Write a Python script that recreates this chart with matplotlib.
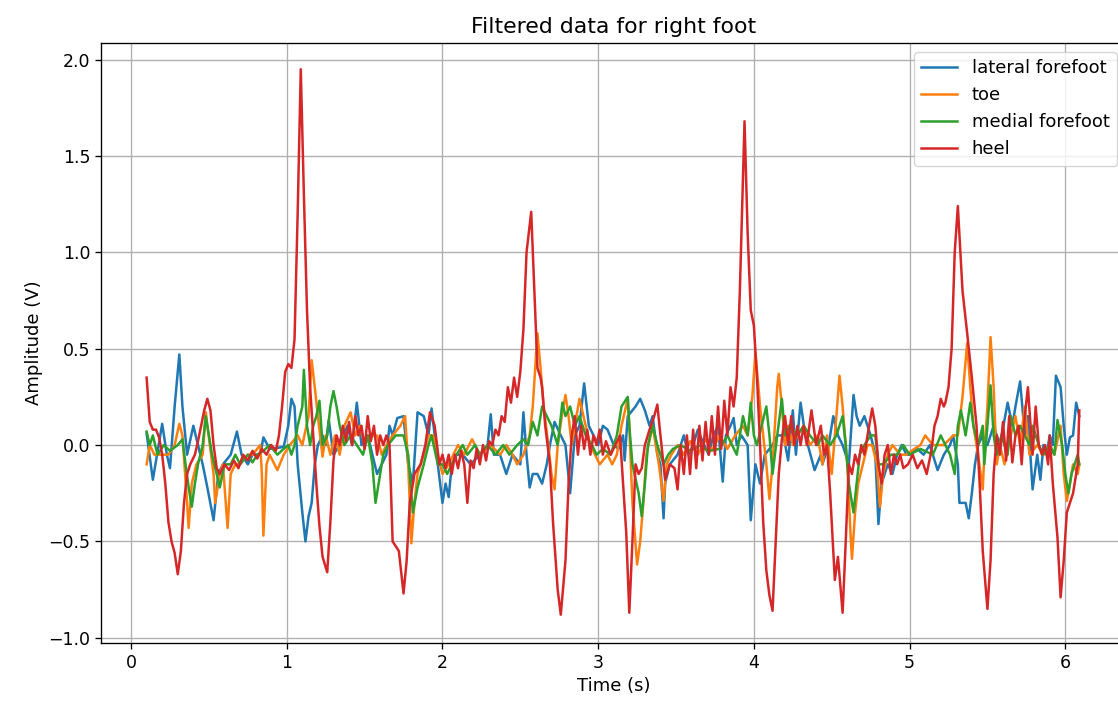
import matplotlib
matplotlib.use("Agg")
import matplotlib.pyplot as plt

title = "Filtered data for right foot"
x_label = "Time (s)"
y_label = "Amplitude (V)"
series_names = ["lateral forefoot", "toe", "medial forefoot", "heel"]

lateral_t = [0.10, 0.14, 0.20, 0.23, 0.25, 0.28, 0.31, 0.33, 0.36, 0.40, 0.43, 0.46, 0.49, 0.53, 0.56,
             0.59, 0.64, 0.68, 0.71, 0.75, 0.78, 0.83, 0.85, 0.89, 0.98, 1.01, 1.03, 1.05, 1.07, 1.10,
             1.12, 1.14, 1.16, 1.18, 1.20, 1.23, 1.25, 1.27, 1.30, 1.34, 1.39, 1.42, 1.45, 1.48, 1.52,
             1.55, 1.58, 1.61, 1.64, 1.66, 1.68, 1.71, 1.75, 1.78, 1.81, 1.84, 1.88, 1.91, 1.93, 1.95,
             1.97, 2.00, 2.02, 2.04, 2.06, 2.09, 2.13, 2.18, 2.24, 2.29, 2.31, 2.33, 2.37, 2.41, 2.45,
             2.50, 2.52, 2.54, 2.56, 2.58, 2.61, 2.64, 2.67, 2.69, 2.72, 2.76, 2.79, 2.82, 2.85, 2.88,
             2.91, 2.94, 2.97, 3.00, 3.03, 3.06, 3.10, 3.13, 3.16, 3.17, 3.19, 3.24, 3.27, 3.30, 3.33,
             3.35, 3.38, 3.40, 3.42, 3.43, 3.46, 3.51, 3.55, 3.58, 3.61, 3.64, 3.67, 3.71, 3.74, 3.77,
             3.80, 3.82, 3.85, 3.87, 3.89, 3.92, 3.96, 3.98, 4.01, 4.04, 4.07, 4.12, 4.15, 4.19, 4.22,
             4.25, 4.27, 4.30, 4.33, 4.36, 4.39, 4.43, 4.44, 4.48, 4.51, 4.54, 4.57, 4.61, 4.64, 4.66,
             4.68, 4.71, 4.75, 4.78, 4.80, 4.82, 4.86, 4.89, 4.92, 4.95, 4.98, 5.00, 5.05, 5.09, 5.13,
             5.18, 5.22, 5.26, 5.28, 5.31, 5.32, 5.36, 5.38, 5.40, 5.42, 5.44, 5.47, 5.50, 5.54, 5.58,
             5.63, 5.66, 5.68, 5.71, 5.74, 5.76, 5.79, 5.82, 5.84, 5.86, 5.88, 5.90, 5.92, 5.94, 5.97,
             5.99, 6.01, 6.03, 6.05, 6.07, 6.09]
lateral_v = [0.06, -0.18, 0.11, -0.05, -0.12, 0.20, 0.47, 0.20, -0.05, 0.10, 0.00, -0.10, -0.22, -0.39, -0.15,
             -0.10, -0.05, 0.07, -0.05, -0.10, -0.05, -0.05, 0.04, -0.02, -0.01, 0.10, 0.24, 0.20, -0.10, -0.35,
             -0.50, -0.37, -0.30, -0.10, 0.00, 0.05, 0.00, 0.13, -0.05, 0.00, 0.10, 0.00, 0.22, 0.00, 0.05,
             -0.05, -0.15, -0.10, -0.05, 0.10, 0.05, 0.14, 0.15, -0.10, -0.20, 0.17, 0.15, 0.05, 0.19, 0.05,
             -0.10, -0.30, -0.20, -0.27, -0.10, -0.05, -0.05, -0.10, -0.05, 0.00, 0.16, -0.05, -0.05, -0.15, -0.05,
             -0.10, 0.17, -0.05, -0.22, -0.15, -0.15, -0.20, -0.10, 0.00, 0.12, 0.05, 0.00, -0.25, 0.05, 0.10,
             0.32, 0.10, 0.05, 0.00, 0.10, 0.08, 0.00, -0.02, 0.05, -0.08, 0.15, 0.20, 0.24, 0.18, 0.10,
             0.15, -0.05, -0.10, -0.38, -0.20, -0.10, -0.05, 0.05, -0.05, 0.00, 0.08, 0.02, -0.05, 0.05, 0.10,
             -0.19, 0.05, 0.10, 0.14, 0.00, 0.05, 0.00, -0.39, -0.10, -0.20, -0.05, 0.00, 0.05, 0.05, -0.08,
             0.18, -0.05, 0.22, 0.05, -0.04, -0.13, -0.05, -0.10, 0.00, 0.15, 0.05, 0.00, -0.10, 0.26, 0.15,
             0.10, 0.15, 0.05, -0.05, -0.41, -0.20, -0.10, -0.15, -0.05, 0.00, -0.05, -0.05, -0.02, -0.05, 0.00,
             -0.13, -0.05, 0.00, 0.05, -0.10, -0.30, -0.30, -0.38, -0.25, -0.10, 0.00, 0.05, 0.00, 0.10, 0.00,
             0.22, 0.10, 0.20, 0.33, 0.05, 0.15, -0.23, -0.05, -0.18, 0.00, -0.05, 0.05, 0.00, 0.36, 0.30,
             0.10, -0.05, 0.04, 0.05, 0.22, 0.15]

toe_t = [0.10, 0.12, 0.15, 0.20, 0.24, 0.28, 0.31, 0.33, 0.36, 0.37, 0.39, 0.42, 0.46, 0.48, 0.49,
         0.53, 0.54, 0.57, 0.59, 0.62, 0.64, 0.67, 0.70, 0.75, 0.78, 0.83, 0.84, 0.85, 0.87, 0.89,
         0.94, 0.98, 1.02, 1.07, 1.10, 1.14, 1.16, 1.18, 1.20, 1.23, 1.25, 1.28, 1.31, 1.34, 1.37,
         1.41, 1.44, 1.47, 1.50, 1.53, 1.58, 1.61, 1.64, 1.68, 1.73, 1.76, 1.78, 1.80, 1.82, 1.84,
         1.88, 1.91, 1.94, 1.97, 2.00, 2.04, 2.07, 2.10, 2.14, 2.19, 2.24, 2.31, 2.37, 2.41, 2.45,
         2.48, 2.52, 2.54, 2.56, 2.58, 2.61, 2.63, 2.65, 2.68, 2.70, 2.72, 2.74, 2.77, 2.79, 2.81,
         2.83, 2.85, 2.88, 2.92, 2.95, 2.98, 3.01, 3.06, 3.09, 3.12, 3.15, 3.19, 3.20, 3.22, 3.25,
         3.27, 3.29, 3.31, 3.35, 3.37, 3.39, 3.42, 3.44, 3.47, 3.51, 3.55, 3.59, 3.64, 3.69, 3.73,
         3.78, 3.83, 3.88, 3.93, 3.96, 3.99, 4.01, 4.04, 4.06, 4.08, 4.10, 4.12, 4.15, 4.16, 4.18,
         4.20, 4.22, 4.25, 4.28, 4.32, 4.36, 4.41, 4.44, 4.47, 4.50, 4.53, 4.55, 4.57, 4.60, 4.62,
         4.63, 4.65, 4.67, 4.70, 4.73, 4.76, 4.79, 4.81, 4.83, 4.86, 4.89, 4.94, 4.98, 5.03, 5.07,
         5.10, 5.15, 5.22, 5.28, 5.31, 5.34, 5.37, 5.39, 5.41, 5.44, 5.47, 5.48, 5.50, 5.52, 5.54,
         5.56, 5.58, 5.61, 5.65, 5.68, 5.71, 5.74, 5.77, 5.82, 5.86, 5.90, 5.93, 5.97, 5.99, 6.01,
         6.03, 6.05, 6.08, 6.09]
toe_v = [-0.10, 0.00, -0.05, -0.05, -0.05, 0.00, 0.11, 0.05, -0.30, -0.43, -0.20, -0.10, -0.05, 0.17, 0.10,
         -0.15, -0.30, -0.15, -0.10, -0.43, -0.15, -0.10, -0.10, -0.05, -0.05, 0.00, -0.15, -0.47, -0.10, -0.05,
         -0.13, -0.05, 0.00, 0.05, 0.00, 0.15, 0.44, 0.30, 0.15, -0.06, 0.05, -0.05, 0.05, -0.05, 0.10,
         0.17, 0.05, 0.10, 0.00, 0.05, 0.05, -0.05, 0.00, 0.05, 0.10, 0.15, -0.10, -0.51, -0.30, -0.15,
         -0.05, 0.05, 0.05, -0.05, -0.15, -0.10, -0.05, 0.00, -0.05, 0.03, -0.05, 0.00, -0.05, 0.00, -0.05,
         -0.10, -0.05, 0.00, 0.05, 0.20, 0.58, 0.40, 0.20, 0.00, -0.15, -0.23, 0.00, 0.17, 0.26, 0.15,
         0.00, 0.10, 0.24, 0.10, 0.00, -0.05, -0.10, -0.05, -0.10, -0.05, 0.10, 0.24, 0.10, -0.30, -0.62,
         -0.50, -0.30, -0.05, 0.10, 0.00, -0.10, -0.29, -0.10, -0.05, 0.00, -0.05, 0.02, -0.05, 0.03, -0.03,
         0.05, -0.02, 0.05, 0.10, 0.05, 0.25, 0.48, 0.20, 0.05, -0.10, -0.28, -0.10, 0.30, 0.37, 0.20,
         0.00, 0.10, 0.00, 0.05, 0.10, 0.00, 0.05, -0.10, 0.05, -0.15, 0.15, 0.36, 0.20, -0.10, -0.45,
         -0.59, -0.35, -0.20, -0.10, 0.00, 0.00, -0.10, -0.32, -0.15, -0.05, 0.00, -0.05, -0.05, -0.02, 0.00,
         0.05, 0.00, 0.00, 0.05, 0.05, 0.25, 0.53, 0.30, 0.10, -0.05, -0.23, -0.05, 0.20, 0.56, 0.30,
         -0.10, 0.00, -0.10, 0.05, 0.15, 0.00, 0.20, -0.05, 0.00, -0.05, 0.00, -0.05, 0.10, -0.15, -0.29,
         -0.20, -0.10, -0.15, -0.10]

medial_t = [0.10, 0.12, 0.14, 0.17, 0.21, 0.25, 0.30, 0.33, 0.35, 0.37, 0.39, 0.41, 0.43, 0.46, 0.48,
            0.49, 0.52, 0.55, 0.57, 0.60, 0.64, 0.67, 0.70, 0.75, 0.78, 0.81, 0.85, 0.89, 0.94, 0.98,
            1.01, 1.03, 1.05, 1.07, 1.10, 1.11, 1.13, 1.15, 1.17, 1.19, 1.21, 1.23, 1.26, 1.28, 1.30,
            1.32, 1.34, 1.37, 1.41, 1.45, 1.49, 1.52, 1.55, 1.57, 1.60, 1.62, 1.65, 1.70, 1.75, 1.78,
            1.81, 1.84, 1.88, 1.91, 1.93, 1.97, 2.00, 2.03, 2.06, 2.09, 2.13, 2.16, 2.21, 2.24, 2.29,
            2.34, 2.39, 2.43, 2.48, 2.52, 2.55, 2.58, 2.61, 2.64, 2.67, 2.70, 2.74, 2.77, 2.79, 2.82,
            2.85, 2.88, 2.92, 2.96, 2.99, 3.03, 3.08, 3.12, 3.15, 3.19, 3.20, 3.22, 3.26, 3.28, 3.30,
            3.32, 3.35, 3.38, 3.42, 3.45, 3.48, 3.53, 3.59, 3.66, 3.70, 3.78, 3.83, 3.86, 3.89, 3.91,
            3.93, 3.96, 3.98, 4.00, 4.02, 4.05, 4.08, 4.10, 4.12, 4.15, 4.18, 4.20, 4.23, 4.28, 4.32,
            4.36, 4.41, 4.44, 4.49, 4.53, 4.57, 4.59, 4.61, 4.64, 4.66, 4.68, 4.71, 4.75, 4.78, 4.80,
            4.83, 4.88, 4.92, 4.96, 5.00, 5.07, 5.15, 5.20, 5.23, 5.26, 5.29, 5.31, 5.33, 5.36, 5.39,
            5.41, 5.44, 5.47, 5.48, 5.50, 5.52, 5.54, 5.56, 5.59, 5.63, 5.65, 5.68, 5.71, 5.74, 5.77,
            5.79, 5.83, 5.86, 5.90, 5.93, 5.95, 5.98, 6.00, 6.02, 6.04, 6.06, 6.08, 6.09]
medial_v = [0.07, 0.00, 0.05, -0.05, 0.00, -0.03, 0.00, 0.03, -0.10, -0.22, -0.32, -0.20, -0.10, 0.00, 0.15,
            0.10, -0.05, -0.15, -0.22, -0.10, -0.10, -0.05, -0.10, -0.05, -0.09, -0.05, -0.03, 0.00, -0.05, -0.02,
            0.00, -0.05, 0.00, 0.10, 0.20, 0.39, 0.10, 0.00, 0.10, 0.15, 0.23, 0.00, 0.05, 0.20, 0.28,
            0.20, 0.10, 0.00, 0.05, 0.00, -0.05, 0.05, -0.10, -0.30, -0.15, -0.05, 0.00, 0.05, 0.05, -0.05,
            -0.35, -0.22, -0.10, 0.00, 0.05, -0.10, -0.10, -0.15, -0.10, -0.05, 0.00, -0.05, 0.00, -0.05, 0.00,
            -0.05, 0.00, -0.05, 0.00, 0.03, 0.00, 0.12, 0.05, 0.20, 0.15, 0.10, 0.00, 0.22, 0.15, 0.20,
            0.10, 0.15, 0.05, 0.00, -0.05, -0.02, -0.05, 0.05, 0.20, 0.25, 0.10, -0.10, -0.25, -0.37, -0.20,
            0.00, 0.10, 0.00, -0.10, -0.05, -0.02, 0.00, -0.03, 0.00, -0.03, -0.02, 0.05, 0.00, -0.05, 0.05,
            0.15, 0.05, 0.22, 0.05, 0.00, 0.10, 0.20, 0.05, -0.15, 0.05, 0.24, 0.05, 0.10, 0.05, 0.10,
            0.05, 0.00, 0.05, 0.00, 0.05, 0.15, 0.00, -0.20, -0.35, -0.20, -0.05, 0.00, 0.05, 0.05, -0.10,
            -0.10, -0.05, -0.05, 0.00, -0.05, -0.02, -0.05, 0.05, 0.00, -0.05, -0.15, 0.10, 0.18, 0.05, 0.22,
            0.10, 0.00, 0.10, -0.10, 0.10, 0.31, 0.05, -0.05, 0.05, -0.05, 0.15, 0.05, 0.10, 0.05, 0.00,
            0.10, 0.00, -0.05, 0.00, -0.05, 0.13, 0.00, -0.15, -0.25, -0.15, -0.10, -0.05, -0.10]

heel_t = [0.10, 0.12, 0.14, 0.16, 0.18, 0.20, 0.22, 0.24, 0.26, 0.28, 0.30, 0.32, 0.34, 0.36, 0.38,
          0.41, 0.43, 0.45, 0.47, 0.49, 0.51, 0.53, 0.55, 0.57, 0.60, 0.63, 0.66, 0.69, 0.72, 0.75,
          0.78, 0.81, 0.84, 0.87, 0.90, 0.93, 0.95, 0.97, 0.99, 1.01, 1.03, 1.05, 1.07, 1.09, 1.11,
          1.13, 1.15, 1.17, 1.19, 1.21, 1.23, 1.26, 1.28, 1.30, 1.32, 1.34, 1.36, 1.38, 1.40, 1.42,
          1.44, 1.46, 1.48, 1.50, 1.52, 1.54, 1.56, 1.58, 1.60, 1.62, 1.64, 1.66, 1.68, 1.72, 1.75,
          1.77, 1.79, 1.82, 1.86, 1.89, 1.92, 1.95, 1.98, 2.00, 2.02, 2.04, 2.06, 2.08, 2.10, 2.12,
          2.14, 2.16, 2.18, 2.20, 2.22, 2.24, 2.26, 2.28, 2.30, 2.32, 2.34, 2.36, 2.38, 2.40, 2.42,
          2.44, 2.46, 2.48, 2.50, 2.52, 2.54, 2.57, 2.59, 2.61, 2.63, 2.64, 2.66, 2.69, 2.71, 2.74,
          2.76, 2.79, 2.81, 2.83, 2.85, 2.87, 2.89, 2.91, 2.93, 2.95, 2.97, 2.99, 3.01, 3.03, 3.05,
          3.08, 3.11, 3.14, 3.16, 3.18, 3.20, 3.22, 3.24, 3.26, 3.28, 3.30, 3.33, 3.36, 3.38, 3.40,
          3.43, 3.46, 3.49, 3.51, 3.53, 3.55, 3.57, 3.59, 3.61, 3.63, 3.65, 3.67, 3.69, 3.71, 3.73,
          3.75, 3.77, 3.79, 3.81, 3.83, 3.85, 3.87, 3.89, 3.91, 3.94, 3.96, 3.98, 4.00, 4.02, 4.04,
          4.06, 4.08, 4.10, 4.12, 4.14, 4.16, 4.18, 4.20, 4.22, 4.24, 4.26, 4.28, 4.30, 4.32, 4.34,
          4.37, 4.40, 4.43, 4.45, 4.47, 4.49, 4.52, 4.54, 4.57, 4.59, 4.61, 4.63, 4.65, 4.67, 4.69,
          4.71, 4.73, 4.76, 4.78, 4.80, 4.82, 4.84, 4.86, 4.88, 4.90, 4.92, 4.94, 4.96, 4.99, 5.02,
          5.05, 5.08, 5.11, 5.14, 5.16, 5.18, 5.20, 5.22, 5.23, 5.25, 5.27, 5.29, 5.31, 5.34, 5.37,
          5.40, 5.43, 5.45, 5.47, 5.50, 5.52, 5.54, 5.56, 5.58, 5.60, 5.62, 5.64, 5.66, 5.68, 5.70,
          5.72, 5.74, 5.76, 5.79, 5.81, 5.83, 5.85, 5.87, 5.89, 5.90, 5.92, 5.95, 5.97, 5.99, 6.01,
          6.03, 6.05, 6.08, 6.09]
heel_v = [0.35, 0.12, 0.08, 0.08, 0.04, -0.05, -0.20, -0.40, -0.50, -0.56, -0.67, -0.55, -0.30, -0.15, -0.10,
          -0.05, 0.02, 0.10, 0.18, 0.24, 0.18, 0.00, -0.12, -0.15, -0.10, -0.13, -0.08, -0.12, -0.05, -0.08,
          -0.03, -0.07, -0.02, -0.05, 0.00, -0.03, 0.05, 0.20, 0.38, 0.42, 0.40, 0.55, 1.20, 1.95, 1.30,
          0.70, 0.30, 0.05, -0.20, -0.42, -0.58, -0.66, -0.40, -0.08, 0.05, 0.00, 0.10, 0.02, 0.12, 0.00,
          0.15, 0.05, 0.10, -0.02, 0.15, 0.02, 0.10, -0.05, 0.05, 0.00, 0.05, 0.00, -0.50, -0.55, -0.77,
          -0.60, -0.30, -0.15, -0.10, 0.00, 0.17, 0.10, -0.10, -0.05, -0.12, -0.05, -0.15, -0.05, -0.12, -0.03,
          -0.10, -0.30, -0.08, -0.12, -0.02, -0.10, 0.00, -0.08, 0.02, 0.00, 0.08, 0.05, 0.15, 0.12, 0.30,
          0.22, 0.35, 0.25, 0.38, 0.60, 1.00, 1.21, 0.80, 0.40, 0.35, 0.30, 0.10, -0.10, -0.40, -0.75,
          -0.88, -0.60, -0.20, 0.05, 0.15, -0.05, 0.10, -0.02, 0.08, -0.05, 0.05, 0.00, 0.08, -0.05, 0.02,
          -0.05, 0.00, 0.05, -0.20, -0.45, -0.87, -0.50, -0.10, -0.15, -0.12, 0.00, 0.08, 0.15, 0.21, 0.05,
          -0.18, -0.10, -0.12, -0.23, 0.00, -0.15, 0.05, -0.15, 0.08, -0.12, 0.10, -0.08, 0.12, -0.05, 0.15,
          -0.05, 0.20, -0.02, 0.23, 0.05, 0.30, 0.20, 0.35, 0.80, 1.68, 1.10, 0.70, 0.62, 0.35, 0.00,
          -0.40, -0.65, -0.78, -0.86, -0.50, -0.15, 0.03, 0.15, 0.00, 0.15, 0.00, 0.10, 0.00, 0.10, 0.00,
          0.18, 0.00, 0.10, -0.05, 0.00, -0.25, -0.70, -0.58, -0.87, -0.50, -0.10, -0.15, -0.05, -0.10, 0.00,
          -0.05, 0.05, 0.19, 0.10, -0.10, -0.20, -0.05, 0.00, -0.15, -0.05, -0.10, -0.05, -0.12, -0.10, -0.05,
          -0.12, -0.08, -0.15, -0.03, 0.10, 0.15, 0.24, 0.20, 0.22, 0.30, 0.50, 1.00, 1.24, 0.80, 0.58,
          0.35, 0.10, -0.20, -0.55, -0.85, -0.60, -0.15, 0.05, -0.05, 0.12, -0.08, 0.15, -0.09, 0.05, 0.10,
          -0.10, 0.15, 0.30, -0.05, 0.20, 0.00, -0.05, 0.00, -0.10, 0.05, -0.20, -0.48, -0.79, -0.60, -0.35,
          -0.30, -0.25, -0.10, 0.18]

plt.rcParams.update({
    "font.family": ["DejaVu Sans"],
    "font.size": 12,
    "axes.titlesize": 15.8,
    "axes.labelsize": 13,
    "xtick.labelsize": 12.5,
    "ytick.labelsize": 12.5,
    "lines.linewidth": 1.8,
    "axes.linewidth": 0.96,
    "grid.linewidth": 0.96,
    "xtick.major.size": 4.2,
    "ytick.major.size": 4.2,
    "xtick.major.width": 0.96,
    "ytick.major.width": 0.96,
    "legend.fontsize": 13,
})

fig = plt.figure(figsize=(11.18, 7.02), dpi=100)
W, H = 1118, 702
ax = fig.add_axes([101 / W, 1 - 643 / H, 1025 / W, (643 - 43) / H])

ax.plot(lateral_t, lateral_v, color="#1f77b4", label=series_names[0])
ax.plot(toe_t, toe_v, color="#ff7f0e", label=series_names[1])
ax.plot(medial_t, medial_v, color="#2ca02c", label=series_names[2])
ax.plot(heel_t, heel_v, color="#d62728", label=series_names[3])

ax.set_xlim(-0.193, 6.39)
ax.set_ylim(-1.027, 2.086)
ax.set_xticks([0, 1, 2, 3, 4, 5, 6])
ax.set_yticks([-1.0, -0.5, 0.0, 0.5, 1.0, 1.5, 2.0])
ax.grid(True)
ax.set_title(title, pad=7)
ax.set_xlabel(x_label)
ax.set_ylabel(y_label)
ax.legend(loc="upper right")

fig.savefig("out.png", dpi=100)
